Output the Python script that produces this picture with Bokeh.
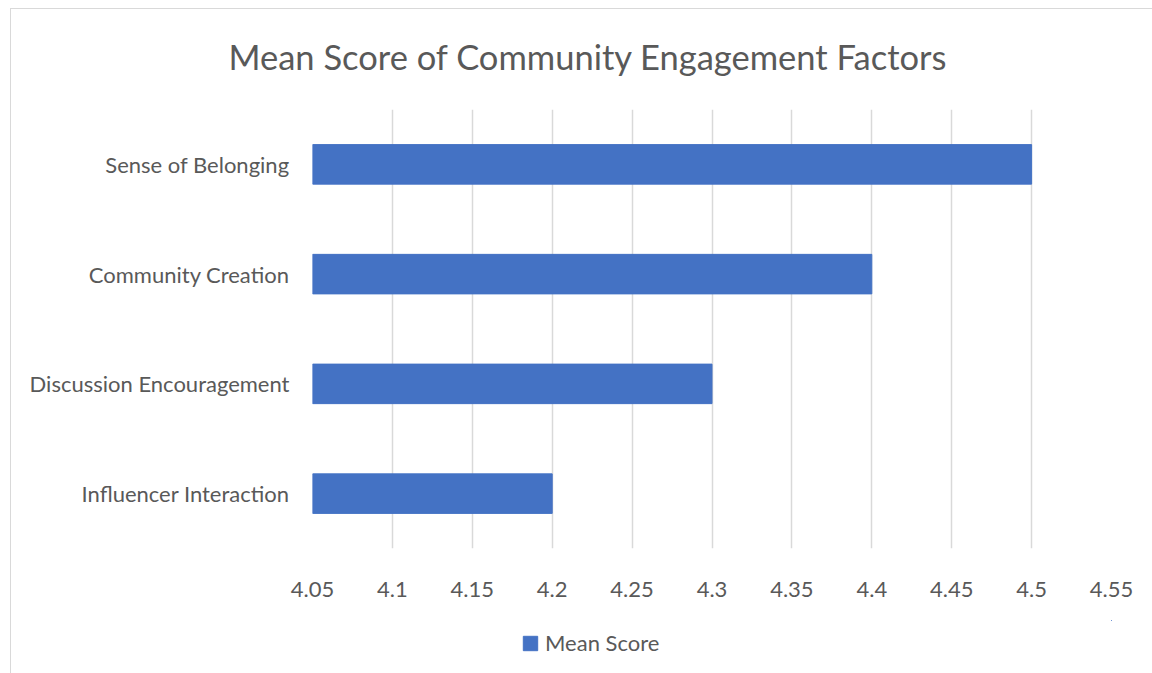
from bokeh.plotting import figure
from bokeh.models import Range1d, FactorRange, Legend, LegendItem, SingleIntervalTicker
from bokeh.layouts import column
from bokeh.embed import file_html
from bokeh.resources import INLINE

categories = ["Influencer Interaction", "Discussion Encouragement", "Community Creation", "Sense of Belonging"]
mean_scores = [4.2, 4.3, 4.4, 4.5]
axis_min, axis_max, axis_step = 4.05, 4.55, 0.05
title_text = "Mean Score of Community Engagement Factors"
series_name = "Mean Score"

FONT = "Lato"
TEXT = "#595959"
BAR = "#4472C4"
GRID = "#d9d9d9"

p = figure(width=1152, height=620, output_backend="svg", toolbar_location=None,
           x_range=Range1d(axis_min, axis_max), y_range=FactorRange(*categories, range_padding=0),
           min_border_left=312, min_border_right=41, min_border_top=107, min_border_bottom=72)
p.outline_line_color = None
p.border_fill_color = None
p.background_fill_color = None

p.hbar(y=categories, right=mean_scores, left=axis_min, height=0.36, color=BAR)

p.title.text = title_text
p.title.align = "left"
p.title.offset = -84
p.title.standoff = 66
p.title.text_font = FONT
p.title.text_font_size = "34.5px"
p.title.text_font_style = "normal"
p.title.text_color = TEXT

p.xaxis.ticker = SingleIntervalTicker(interval=axis_step)
p.xaxis.axis_line_color = None
p.xaxis.major_tick_line_color = None
p.xaxis.minor_tick_line_color = None
p.xaxis.major_label_standoff = 27
p.xaxis.major_label_text_font = FONT
p.xaxis.major_label_text_font_size = "22px"
p.xaxis.major_label_text_color = TEXT

p.yaxis.axis_line_color = None
p.yaxis.major_tick_line_color = None
p.yaxis.minor_tick_line_color = None
p.yaxis.major_label_standoff = 17
p.yaxis.major_label_text_font = FONT
p.yaxis.major_label_text_font_size = "22px"
p.yaxis.major_label_text_color = TEXT

p.xgrid.grid_line_color = GRID
p.xgrid.grid_line_width = 1.5
p.ygrid.grid_line_color = None

# legend strip below the chart (its bars fall far outside its own ranges, only the key shows)
lg = figure(width=1152, height=53, output_backend="svg", toolbar_location=None,
            x_axis_type=None, y_axis_type=None, x_range=Range1d(-2, -1), y_range=Range1d(-2, -1),
            min_border_left=312, min_border_right=41, min_border_top=0, min_border_bottom=0)
lg.outline_line_color = None
lg.border_fill_color = None
lg.background_fill_color = None
lg.xgrid.grid_line_color = None
lg.ygrid.grid_line_color = None
key = lg.hbar(y=mean_scores, right=mean_scores, left=axis_min, height=0.36, color=BAR)
legend = Legend(items=[LegendItem(label=series_name, renderers=[key])], orientation="horizontal",
                location=(209, 17), glyph_width=18, glyph_height=18, label_standoff=6,
                padding=0, margin=0, border_line_color=None, background_fill_alpha=0,
                label_text_font=FONT, label_text_font_size="22px", label_text_color=TEXT)
lg.add_layout(legend)

page = column(p, lg, spacing=0)
page.styles = {"box-shadow": "inset 10px 8px 0 0 #ffffff, inset 11px 9px 0 0 #d9d9d9"}
open("out.html", "w").write(file_html(page, INLINE))
